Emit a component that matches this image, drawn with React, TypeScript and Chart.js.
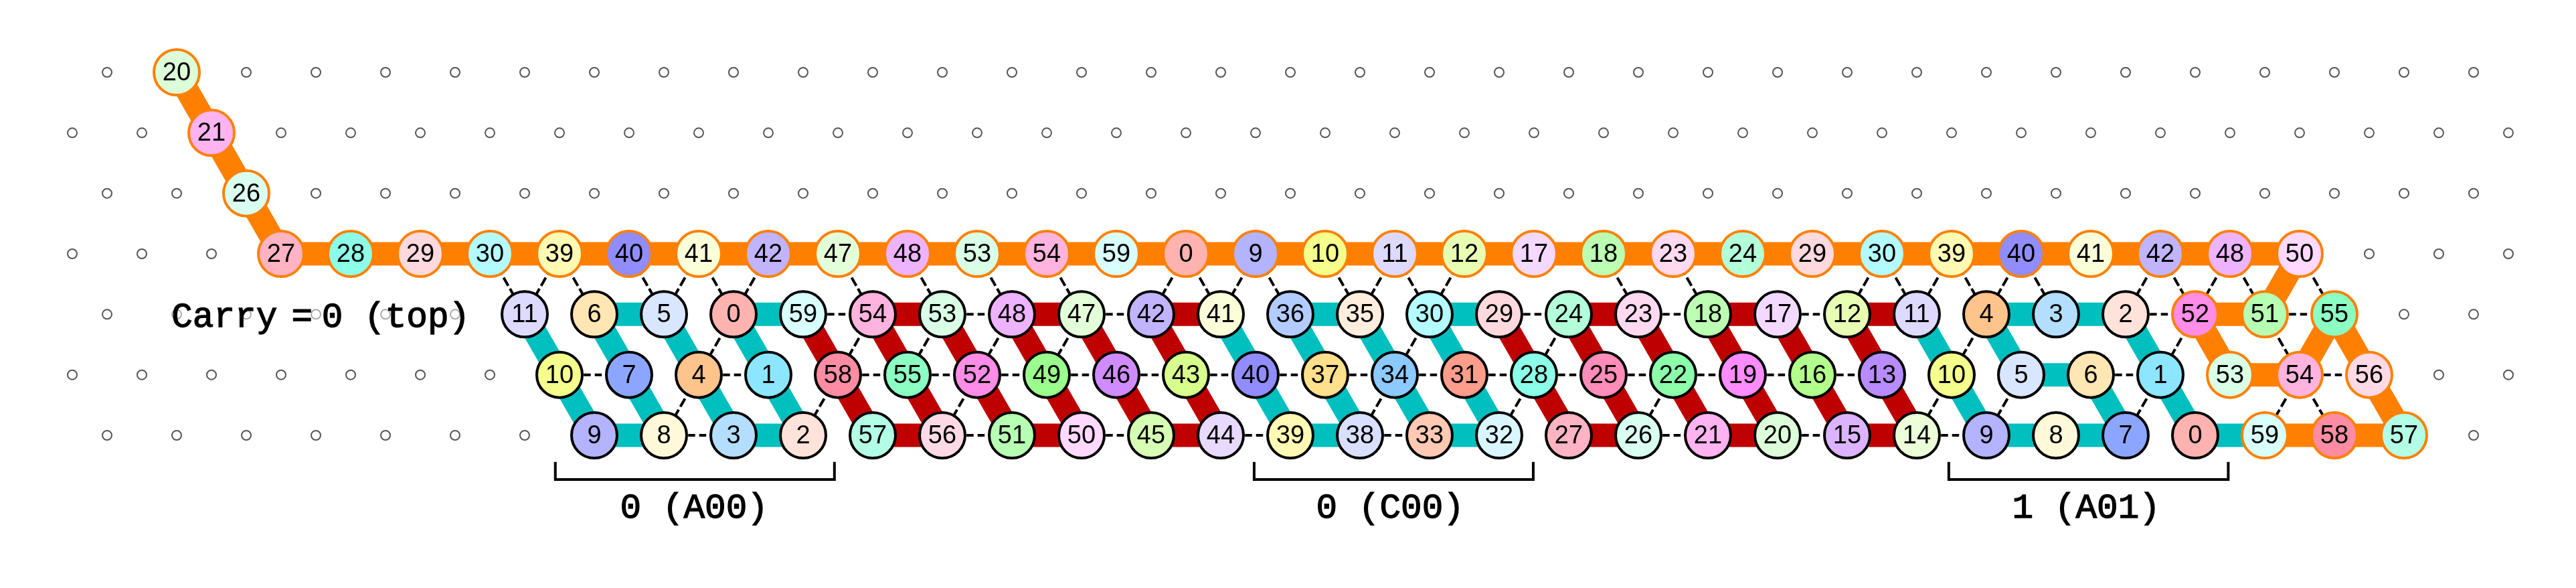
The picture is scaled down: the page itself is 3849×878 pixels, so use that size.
import { useEffect, useRef } from 'react';
import { Chart, registerables, Plugin } from 'chart.js';

Chart.register(...registerables);

// Register labels per lattice row. Columns step by 2, starting at firstCol.
const chainLabels = [20, 21, 26];
const chainCols = [3, 4, 5];
const row3Labels = [27, 28, 29, 30, 39, 40, 41, 42, 47, 48, 53, 54, 59, 0, 9, 10, 11, 12, 17, 18, 23, 24, 29, 30, 39, 40, 41, 42, 48, 50];
const row4Labels = [11, 6, 5, 0, 59, 54, 53, 48, 47, 42, 41, 36, 35, 30, 29, 24, 23, 18, 17, 12, 11, 4, 3, 2, 52, 51, 55];
const row5Labels = [10, 7, 4, 1, 58, 55, 52, 49, 46, 43, 40, 37, 34, 31, 28, 25, 22, 19, 16, 13, 10, 5, 6, 1, 53, 54, 56];
const row6Labels = [9, 8, 3, 2, 57, 56, 51, 50, 45, 44, 39, 38, 33, 32, 27, 26, 21, 20, 15, 14, 9, 8, 7, 0, 59, 58, 57];
const firstCol3 = 6;
const firstCol4 = 13;
const firstCol5 = 14;
const firstCol6 = 15;
const orangeTailFrom = 24; // rows 4-6: this index and later belong to the orange path

// Edges: [row, col, row, col]
const orangeEdges = [
  [0, 3, 1, 4], [1, 4, 2, 5], [2, 5, 3, 6],
  [3, 64, 4, 63], [4, 61, 4, 63], [4, 61, 5, 62], [5, 62, 5, 64], [5, 64, 4, 65],
  [4, 65, 5, 66], [5, 66, 6, 67], [6, 63, 6, 65], [6, 65, 6, 67],
];
const tealEdges = [
  [4, 15, 4, 17], [4, 19, 4, 21], [4, 35, 4, 37], [4, 39, 4, 41], [4, 55, 4, 57], [4, 57, 4, 59],
  [5, 56, 5, 58],
  [6, 15, 6, 17], [6, 19, 6, 21], [6, 35, 6, 37], [6, 39, 6, 41], [6, 55, 6, 57], [6, 57, 6, 59], [6, 61, 6, 63],
  [4, 13, 5, 14], [4, 15, 5, 16], [4, 17, 5, 18], [4, 19, 5, 20], [4, 33, 5, 34], [4, 35, 5, 36],
  [4, 37, 5, 38], [4, 39, 5, 40], [4, 53, 5, 54], [4, 55, 5, 56], [4, 59, 5, 60],
  [5, 14, 6, 15], [5, 16, 6, 17], [5, 18, 6, 19], [5, 20, 6, 21], [5, 34, 6, 35], [5, 36, 6, 37],
  [5, 38, 6, 39], [5, 40, 6, 41], [5, 54, 6, 55], [5, 58, 6, 59], [5, 60, 6, 61],
];
const redEdges = [
  [4, 23, 4, 25], [4, 27, 4, 29], [4, 31, 4, 33], [4, 43, 4, 45], [4, 47, 4, 49], [4, 51, 4, 53],
  [6, 23, 6, 25], [6, 27, 6, 29], [6, 31, 6, 33], [6, 43, 6, 45], [6, 47, 6, 49], [6, 51, 6, 53],
  [4, 21, 5, 22], [4, 23, 5, 24], [4, 25, 5, 26], [4, 27, 5, 28], [4, 29, 5, 30], [4, 31, 5, 32],
  [4, 41, 5, 42], [4, 43, 5, 44], [4, 45, 5, 46], [4, 47, 5, 48], [4, 49, 5, 50], [4, 51, 5, 52],
  [5, 22, 6, 23], [5, 24, 6, 25], [5, 26, 6, 27], [5, 28, 6, 29], [5, 30, 6, 31], [5, 32, 6, 33],
  [5, 42, 6, 43], [5, 44, 6, 45], [5, 46, 6, 47], [5, 48, 6, 49], [5, 50, 6, 51], [5, 52, 6, 53],
];
const dashedFlatEdges = [
  [4, 21, 4, 23], [4, 25, 4, 27], [4, 29, 4, 31], [4, 41, 4, 43], [4, 45, 4, 47], [4, 49, 4, 51], [4, 59, 4, 61], [4, 63, 4, 65],
  [5, 14, 5, 16], [5, 18, 5, 20], [5, 22, 5, 24], [5, 24, 5, 26], [5, 26, 5, 28], [5, 28, 5, 30], [5, 30, 5, 32], [5, 32, 5, 34],
  [5, 34, 5, 36], [5, 36, 5, 38], [5, 38, 5, 40], [5, 40, 5, 42], [5, 42, 5, 44], [5, 44, 5, 46], [5, 46, 5, 48], [5, 48, 5, 50],
  [5, 50, 5, 52], [5, 58, 5, 60], [5, 64, 5, 66],
  [6, 17, 6, 19], [6, 25, 6, 27], [6, 29, 6, 31], [6, 33, 6, 35], [6, 37, 6, 39], [6, 45, 6, 47], [6, 49, 6, 51], [6, 53, 6, 55],
];
const dashedSlantEdges = [
  [3, 12, 4, 13], [3, 14, 4, 13], [3, 14, 4, 15], [3, 16, 4, 17], [3, 18, 4, 17], [3, 18, 4, 19], [3, 20, 4, 19], [3, 22, 4, 23],
  [3, 24, 4, 25], [3, 26, 4, 27], [3, 28, 4, 29], [3, 32, 4, 31], [3, 32, 4, 33], [3, 34, 4, 33], [3, 34, 4, 35], [3, 36, 4, 37],
  [3, 38, 4, 37], [3, 38, 4, 39], [3, 40, 4, 39], [3, 44, 4, 45], [3, 46, 4, 47], [3, 52, 4, 51], [3, 52, 4, 53], [3, 54, 4, 53],
  [3, 54, 4, 55], [3, 56, 4, 55], [3, 56, 4, 57], [3, 60, 4, 59], [3, 60, 4, 61], [3, 62, 4, 61], [3, 62, 4, 63], [3, 64, 4, 65],
  [4, 19, 5, 18], [4, 23, 5, 22], [4, 25, 5, 24], [4, 27, 5, 26], [4, 29, 5, 28], [4, 39, 5, 38], [4, 43, 5, 42], [4, 55, 5, 54],
  [4, 61, 5, 60], [4, 63, 5, 64],
  [5, 18, 6, 17], [5, 22, 6, 21], [5, 26, 6, 25], [5, 38, 6, 37], [5, 42, 6, 41], [5, 46, 6, 45], [5, 54, 6, 53], [5, 56, 6, 55],
  [5, 60, 6, 59], [5, 64, 6, 63], [5, 64, 6, 65],
];

// Empty lattice sites run over every row
const latticeRows = [0, 1, 2, 3, 4, 5, 6];
const lastCol = 70;

// Brackets under the rows: [from col, to col]
const bracketSpans = [[13.88, 21.9], [33.96, 41.98], [53.92, 61.95]];
const bracketTop = 6.44;
const bracketBottom = 6.73;

// Mono captions: [text, col, row, align]
const captions: [string, number, number, CanvasTextAlign][] = [
  ['Carry', 2.85, 4.207, 'left'],
  ['=', 6.6, 4.207, 'center'],
  ['0 (top)', 7.17, 4.207, 'left'],
  ['0 (A00)', 17.87, 7.36, 'center'],
  ['0 (C00)', 37.87, 7.36, 'center'],
  ['1 (A01)', 57.87, 7.36, 'center'],
];

const ORANGE = '#ff8000';
const TEAL = '#00bfbf';
const RED = '#bf0000';
const DOT = '#555555';

// Node fill by register label (index = label)
const labelColors = [
  '#ffb3b0', '#8ce6ff', '#ffe2d9', '#b3deff', '#ffc38c', '#d9e6ff', '#ffe6b3', '#8ca6ff', '#fff9d9', '#b3b3ff',
  '#f5ff8c', '#ded9ff', '#e8ffb3', '#b88cff', '#ebffd9', '#dcb3ff', '#b3ff8c', '#f3d9ff', '#bcffb3', '#ff8cff',
  '#dcffd9', '#ffb3f0', '#8cffaa', '#ffd9f0', '#b3ffd9', '#ff8cb9', '#d9fff0', '#ffb3c3', '#8cffe8', '#ffd9de',
  '#b3fbff', '#ff9d8c', '#d9f5ff', '#ffc9b3', '#8cc9ff', '#ffeedd', '#b3ccff', '#ffe08c', '#d9dfff', '#fff9b3',
  '#918cff', '#fbffd9', '#c2b3ff', '#d7ff8c', '#e8d9ff', '#d6ffb3', '#d08cff', '#e3ffd9', '#eeb3ff', '#9aff8c',
  '#ffd9ff', '#b6ffb3', '#ff8ce6', '#d9ffe6', '#ffb3de', '#8cffc3', '#ffd9e6', '#b3ffe6', '#ff8ca3', '#d9fffc',
];

interface NodePoint {
  x: number;
  y: number;
  label: number;
  orange: boolean;
}

const nodes: NodePoint[] = [
  ...chainLabels.map((label, i) => ({ x: chainCols[i], y: i, label, orange: true })),
  ...row3Labels.map((label, i) => ({ x: firstCol3 + i * 2, y: 3, label, orange: true })),
  ...row4Labels.map((label, i) => ({ x: firstCol4 + i * 2, y: 4, label, orange: i >= orangeTailFrom })),
  ...row5Labels.map((label, i) => ({ x: firstCol5 + i * 2, y: 5, label, orange: i >= orangeTailFrom })),
  ...row6Labels.map((label, i) => ({ x: firstCol6 + i * 2, y: 6, label, orange: i >= orangeTailFrom })),
];

const gridDots: { x: number; y: number }[] = [];
latticeRows.forEach((row) => {
  for (let col = row % 2 === 0 ? 1 : 0; col <= lastCol; col += 2) {
    gridDots.push({ x: col, y: row });
  }
});

// Turn edge list into one polyline with gaps
const edgePath = (edges: number[][]) =>
  edges.flatMap(([r1, c1, r2, c2]) => [
    { x: c1, y: r1 },
    { x: c2, y: r2 },
    { x: NaN, y: NaN },
  ]);

const row3Edges = row3Labels.slice(1).map((_, i) => [3, firstCol3 + i * 2, 3, firstCol3 + i * 2 + 2]);

const bracketPath = bracketSpans.flatMap(([from, to]) => [
  { x: from, y: bracketTop },
  { x: from, y: bracketBottom },
  { x: to, y: bracketBottom },
  { x: to, y: bracketTop },
  { x: NaN, y: NaN },
]);

const labelPlugin: Plugin<'scatter'> = {
  id: 'latticeLabels',
  afterDatasetsDraw(chart) {
    const { ctx, scales } = chart;
    const px = (col: number) => scales.x.getPixelForValue(col);
    const py = (row: number) => scales.y.getPixelForValue(row);

    ctx.save();
    // caption box washes out the dots behind it
    ctx.fillStyle = 'rgba(255, 255, 255, 0.5)';
    ctx.fillRect(px(2.75), py(3.7), px(11.7) - px(2.75), py(4.4) - py(3.7));

    ctx.fillStyle = '#000';
    ctx.textAlign = 'center';
    ctx.textBaseline = 'alphabetic';
    ctx.font = '38px "Liberation Sans"';
    nodes.forEach((n) => {
      ctx.fillText(String(n.label), px(n.x), py(n.y) + 12);
    });

    ctx.font = '52.7px "Liberation Mono"';
    ctx.strokeStyle = '#000';
    ctx.lineWidth = 1.3;
    captions.forEach(([text, col, row, align]) => {
      ctx.textAlign = align;
      ctx.fillText(text, px(col), py(row));
      ctx.strokeText(text, px(col), py(row));
    });
    ctx.restore();
  },
};

export default function App() {
  const canvasRef = useRef<HTMLCanvasElement>(null);

  useEffect(() => {
    if (!canvasRef.current) return;
    document.body.style.margin = '0';

    const thickLine = (data: { x: number; y: number }[], color: string) => ({
      data,
      showLine: true,
      borderColor: color,
      borderWidth: 35,
      borderCapStyle: 'butt' as const,
      pointRadius: 0,
      spanGaps: false,
    });
    const dashedLine = (data: { x: number; y: number }[], dash: number[], offset: number) => ({
      data,
      showLine: true,
      borderColor: '#000',
      borderWidth: 4,
      borderDash: dash,
      borderDashOffset: offset,
      borderCapStyle: 'butt' as const,
      pointRadius: 0,
      spanGaps: false,
    });

    const chart = new Chart(canvasRef.current, {
      type: 'scatter',
      data: {
        datasets: [
          {
            // first dataset is painted on top
            data: nodes,
            pointRadius: 34,
            pointBorderWidth: 4,
            pointBackgroundColor: nodes.map((n) => labelColors[n.label]),
            pointBorderColor: nodes.map((n) => (n.orange ? ORANGE : '#000')),
            showLine: false,
          },
          thickLine(edgePath([...orangeEdges, ...row3Edges]), ORANGE),
          thickLine(edgePath(tealEdges), TEAL),
          thickLine(edgePath(redEdges), RED),
          dashedLine(edgePath(dashedFlatEdges), [10.5, 6], 13.3),
          dashedLine(edgePath(dashedSlantEdges), [14, 5], 16),
          {
            data: bracketPath,
            showLine: true,
            borderColor: '#000',
            borderWidth: 4,
            pointRadius: 0,
            spanGaps: false,
          },
          {
            data: gridDots,
            pointRadius: 7,
            pointBorderWidth: 2,
            pointBackgroundColor: '#fff',
            pointBorderColor: DOT,
            showLine: false,
          },
        ] as any,
      },
      options: {
        animation: false,
        responsive: false,
        devicePixelRatio: 1,
        layout: { padding: 0, autoPadding: false },
        events: [],
        scales: {
          x: { type: 'linear', display: false, min: -108 / 52, max: (3849 - 108) / 52 },
          y: { type: 'linear', display: false, reverse: true, min: -108 / 90.333, max: (878 - 108) / 90.333 },
        },
        plugins: {
          legend: { display: false },
          tooltip: { enabled: false },
        },
      },
      plugins: [labelPlugin],
    });

    return () => {
      chart.destroy();
    };
  }, []);

  return (
    <canvas
      ref={canvasRef}
      width={3849}
      height={878}
      style={{ position: 'absolute', left: 0, top: 0, display: 'block' }}
    />
  );
}
